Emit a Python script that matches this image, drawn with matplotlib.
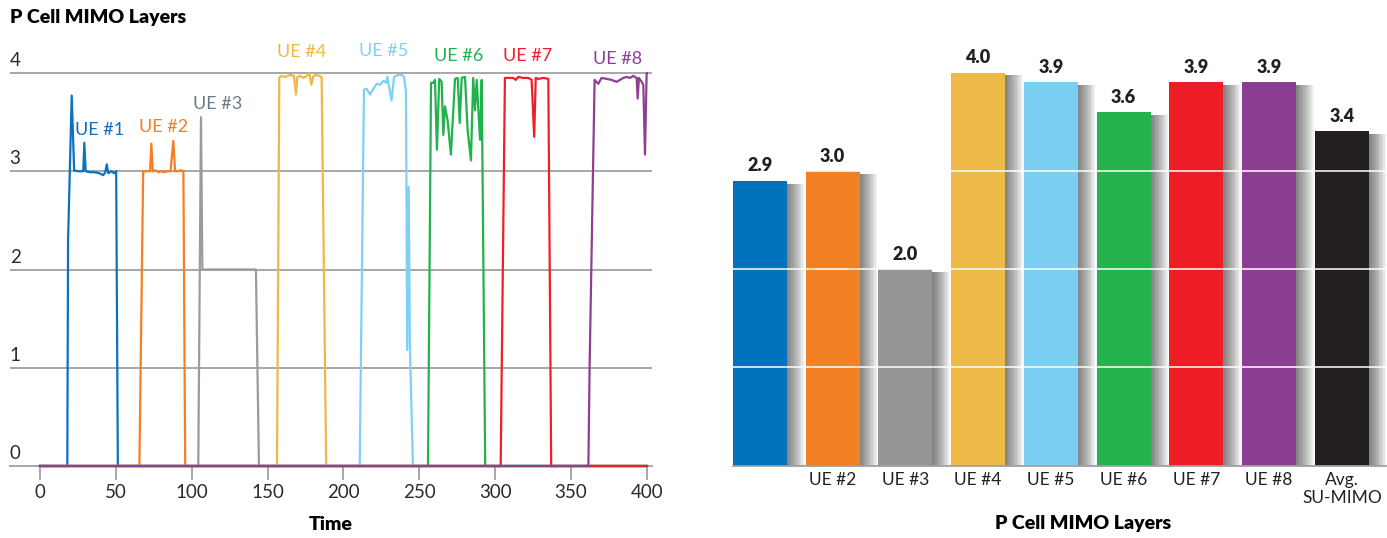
import matplotlib
matplotlib.use("Agg")
import matplotlib.pyplot as plt
from matplotlib import font_manager

# ---------------- data ----------------
ue1_t = [0, 18.0, 18.5, 20.9, 22.5, 25, 28.5, 29.2, 30.1, 33, 36, 39, 41.7, 43, 44, 45, 47, 49, 50.2, 51.3, 400]
ue1_v = [0, 0, 2.3, 3.77, 3.01, 3.0, 3.0, 3.29, 3.0, 2.99, 2.99, 2.98, 2.96, 2.99, 3.07, 2.98, 3.0, 2.98, 3.0, 0, 0]

ue2_t = [0, 65.5, 68, 70, 72.5, 73.4, 74.3, 76, 78, 80, 82, 84, 86, 87.9, 89, 91, 93, 94.5, 95.7, 400]
ue2_v = [0, 0, 3.0, 3.0, 3.0, 3.28, 3.0, 3.01, 2.99, 3.0, 2.99, 3.0, 3.0, 3.31, 3.0, 3.0, 3.01, 3.0, 0, 0]

ue3_t = [0, 104.3, 106.1, 107, 142.3, 144.3, 400]
ue3_v = [0, 0, 3.55, 2.0, 2.0, 0, 0]

ue4_t = [0, 156.2, 157.7, 159.2, 161.4, 164.7, 167.4, 168.7, 169.6, 171.4, 173.6, 175.8, 177.5, 178.8, 180.2, 182.4, 185.6, 188.6, 400]
ue4_v = [0, 0, 3.95, 3.97, 3.96, 3.98, 3.97, 3.78, 3.96, 3.97, 3.95, 3.97, 4.0, 3.88, 3.97, 3.98, 3.96, 0, 0]

ue5_t = [0, 210.7, 213.5, 215.2, 217.5, 219.7, 221.9, 224.1, 226.3, 228.1, 228.9, 230.2, 231.7, 233.3, 236.2, 238.4, 239.9, 241.2, 242.0, 243.0, 243.8, 245.8, 400]
ue5_v = [0, 0, 3.83, 3.84, 3.78, 3.84, 3.89, 3.88, 3.92, 3.90, 3.96, 3.85, 3.72, 3.96, 3.98, 3.98, 3.96, 3.81, 1.18, 2.84, 1.18, 0, 0]

ue6_t = [0, 255.7, 257.7, 259.2, 260.3, 261.6, 263.1, 264.7, 265.8, 266.9, 268.6, 270.8, 273.5, 275.3, 276.6, 277.9, 280.1, 281.8, 284.0, 285.5, 286.7, 287.8, 290.0, 291.1, 293.4, 400]
ue6_v = [0, 0, 3.90, 3.90, 3.93, 3.22, 3.94, 3.91, 3.37, 3.66, 3.52, 3.17, 3.94, 3.95, 3.49, 3.95, 3.96, 3.42, 3.11, 3.95, 3.62, 3.93, 3.32, 3.93, 0, 0]

ue7_t = [0, 303.6, 306.4, 308.6, 311.9, 313.5, 315.2, 318.5, 321.8, 324.0, 325.7, 326.7, 328.4, 331.7, 335.0, 336.9, 400]
ue7_v = [0, 0, 3.95, 3.95, 3.95, 3.93, 3.96, 3.95, 3.95, 3.93, 3.35, 3.95, 3.94, 3.95, 3.94, 0, 0]

ue8_t = [0, 361.4, 362.2, 365.5, 367.9, 370.1, 373.4, 376.7, 380.0, 382.2, 384.4, 386.6, 388.8, 391.0, 393.2, 393.9, 394.7, 396.5, 397.6, 398.7, 399.8, 400]
ue8_v = [0, 0, 1.0, 3.93, 3.89, 3.95, 3.94, 3.93, 3.91, 3.93, 3.95, 3.96, 3.95, 3.97, 3.95, 3.74, 3.95, 3.91, 3.88, 3.17, 4.0, 4.0]

ue_names = ["UE #1", "UE #2", "UE #3", "UE #4", "UE #5", "UE #6", "UE #7", "UE #8"]
ue_label_x = [39.5, 81.7, 117.3, 172.6, 226.7, 276.1, 321.6, 380.9]
ue_label_y = [3.42, 3.45, 3.68, 4.21, 4.22, 4.17, 4.17, 4.14]

x_ticks = [0, 50, 100, 150, 200, 250, 300, 350, 400]
y_ticks = [0, 1, 2, 3, 4]

bar_labels = ["", "UE #2", "UE #3", "UE #4", "UE #5", "UE #6", "UE #7", "UE #8", "Avg.\nSU-MIMO"]
bar_values = [2.9, 3.0, 2.0, 4.0, 3.9, 3.6, 3.9, 3.9, 3.4]
bar_text = ["2.9", "3.0", "2.0", "4.0", "3.9", "3.6", "3.9", "3.9", "3.4"]

# ---------------- style ----------------
line_colors = ["#0a72c0", "#f47f24", "#9b9b9b", "#eeb847", "#7ed1f5", "#22b24c", "#ef1f2a", "#8e3f94"]
label_colors = ["#0a72c0", "#f47f24", "#6b7c86", "#eeb847", "#7ed1f5", "#22b24c", "#ef1f2a", "#8e3f94"]
bar_colors = ["#0071bc", "#f28124", "#959595", "#edba48", "#7acff3", "#23b24b", "#ee1c25", "#8b3d92", "#231f20"]

available = {f.name for f in font_manager.fontManager.ttflist}
main_font = "Lato" if "Lato" in available else "DejaVu Sans"
narrow_font = "Liberation Sans Narrow" if "Liberation Sans Narrow" in available else main_font
plt.rcParams["font.family"] = [main_font, "DejaVu Sans"]

W, H = 1387, 538
fig = plt.figure(figsize=(W / 100, H / 100), dpi=100)
fig.patch.set_facecolor("white")

# ---------------- left: time series ----------------
ppu_y = 98.25
ax1 = fig.add_axes([9.65 / W, 1 - 466 / H, (651.5 - 9.65) / W, 4.4 * ppu_y / H])
ax1.set_xlim(-20, 403)
ax1.set_ylim(0, 4.4)
for s in ["top", "right", "left"]:
    ax1.spines[s].set_visible(False)
ax1.spines["bottom"].set_color("#a0a0a0")
ax1.spines["bottom"].set_linewidth(1.3)
for v in y_ticks[1:]:
    ax1.axhline(v, color="#a0a0a0", lw=1.3, zorder=0)
ax1.set_yticks([])
ax1.set_xticks(x_ticks)
ax1.tick_params(axis="x", length=10, width=1.3, color="#a0a0a0", pad=3,
                labelsize=13.5, labelcolor="#2a2a2a")
for lab in ax1.get_xticklabels():
    lab.set_fontfamily(narrow_font)
for v in y_ticks:
    ax1.annotate(str(v), xy=(-20, v), xytext=(0, 5), textcoords="offset points",
                 ha="left", va="baseline", fontsize=13.5, color="#2a2a2a",
                 fontfamily=narrow_font, annotation_clip=False)

series = [(ue1_t, ue1_v), (ue2_t, ue2_v), (ue3_t, ue3_v), (ue4_t, ue4_v),
          (ue5_t, ue5_v), (ue6_t, ue6_v), (ue7_t, ue7_v), (ue8_t, ue8_v)]
for (t, v), c in zip(series, line_colors):
    ax1.plot(t, v, color=c, lw=1.6, clip_on=False, zorder=3)
for name, x, y, c in zip(ue_names, ue_label_x, ue_label_y, label_colors):
    ax1.text(x, y, name, color=c, fontsize=13, ha="center", va="center", zorder=4)

ax1.set_xlabel("Time", fontsize=14, fontweight="heavy", labelpad=11)

fig.text(10 / W, 1 - 18 / H, "P Cell MIMO Layers", fontsize=14, fontweight="heavy",
         ha="left", va="center")

# ---------------- right: bars ----------------
ax2 = fig.add_axes([733 / W, 1 - 465.5 / H, (1385.5 - 733) / W, 4.4 * ppu_y / H])
ax2.set_xlim(-0.37, 8.6)
ax2.set_ylim(0, 4.4)
for s in ["top", "right", "left"]:
    ax2.spines[s].set_visible(False)
ax2.spines["bottom"].set_color("#a0a0a0")
ax2.spines["bottom"].set_linewidth(1.3)
xs = list(range(len(bar_values)))
bw = 0.742
# soft drop shadow
for k in range(1, 13):
    ax2.bar([x + k * 0.02 for x in xs], [v - 0.03 for v in bar_values], width=bw,
            color="black", alpha=0.05, zorder=1, linewidth=0)
ax2.bar(xs, bar_values, width=bw, color=bar_colors, zorder=2, linewidth=0)
for v in [1, 2, 3]:
    ax2.axhline(v, color="white", lw=1.3, alpha=0.85, zorder=3)
for x, v, t in zip(xs, bar_values, bar_text):
    ax2.annotate(t, xy=(x, v), xytext=(0, 4.5), textcoords="offset points",
                 ha="center", va="bottom", fontsize=13, fontweight="heavy",
                 color="#231f20", fontfamily=narrow_font)
ax2.set_yticks([])
ax2.set_xticks(xs)
ax2.set_xticklabels(bar_labels, fontsize=12.5, color="#231f20", fontfamily=narrow_font,
                    linespacing=1.1)
ax2.tick_params(axis="x", length=0, pad=5)
ax2.set_xlabel("")
fig.text(1083 / W, 1 - 523 / H, "P Cell MIMO Layers", fontsize=14, fontweight="heavy",
         ha="center", va="center")

fig.savefig("out.png", dpi=100, facecolor="white")
